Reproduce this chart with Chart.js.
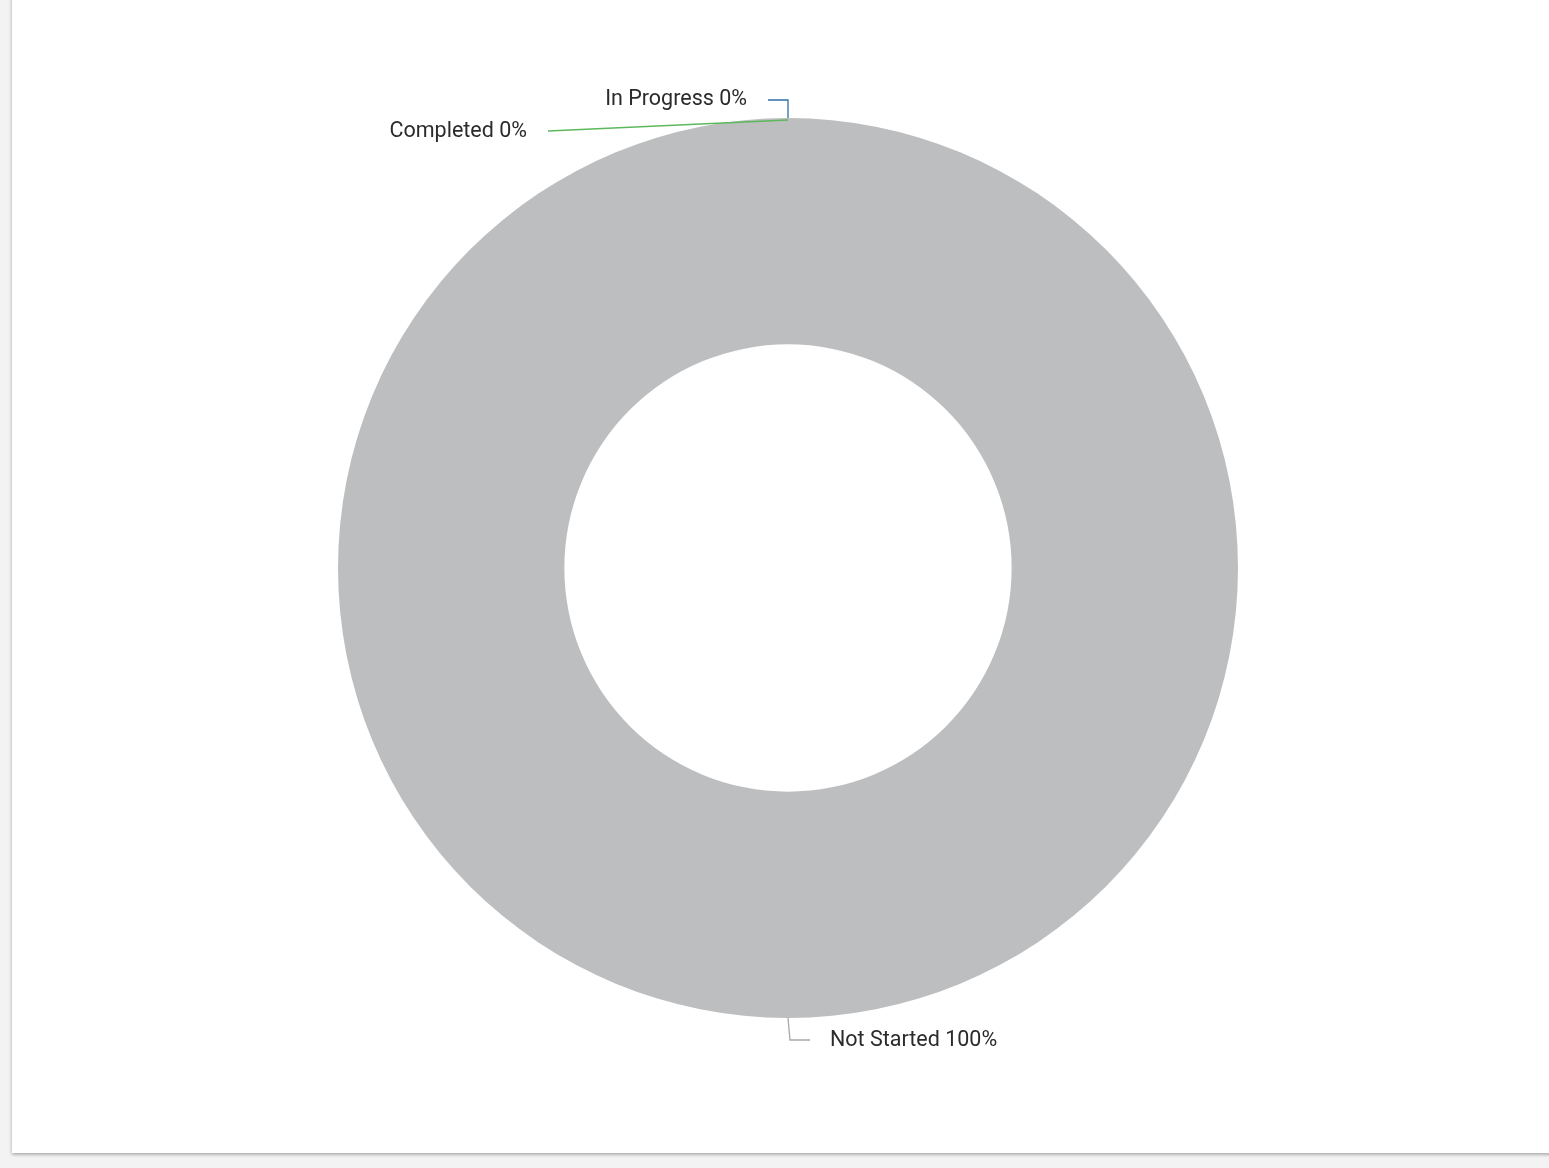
<!DOCTYPE html>
<html>
<head>
<meta charset="utf-8">
<script src="https://cdn.jsdelivr.net/npm/chart.js@4.4.1/dist/chart.umd.min.js"></script>
<style>
  html, body { margin: 0; padding: 0; background: #f3f3f3; width: 1549px; height: 1168px; overflow: hidden; }
  #card { position: absolute; left: 12px; top: -10px; width: 1560px; height: 1163px; background: #ffffff;
          box-shadow: 0 2px 3px rgba(0,0,0,0.25), -1px 0 4px rgba(0,0,0,0.06); }
  #c { position: absolute; left: 0; top: 10px; }
</style>
</head>
<body>
<div id="card"><canvas id="c" width="1537" height="1153"></canvas></div>
<script>
const categories = ["Completed", "In Progress", "Not Started"];
const values = [0, 0, 100];
const percentLabels = ["0%", "0%", "100%"];
const colors = ["#5cb85c", "#2f6fa8", "#bdbec0"];
const lineColors = ["#5cb85c", "#2f6fa8", "#a8a8a8"];

// leader line routes (relative to arc anchor) and label placement, per slice
const leaderRoutes = [
  { pts: [[0, 2], [-240, 13]], text: [-261, 14], align: "right" },
  { pts: [[0, 0], [0, -18], [-20, -18]], text: [-41, -18], align: "right" },
  { pts: [[0, 0], [2, 22], [22, 22]], text: [42, 23], align: "left" }
];

const leaderPlugin = {
  id: "leaders",
  afterDraw(chart) {
    const ctx = chart.ctx;
    const meta = chart.getDatasetMeta(0);
    meta.data.forEach((arc, i) => {
      const p = arc.getProps(["x", "y", "startAngle", "endAngle", "outerRadius"], true);
      const mid = (p.startAngle + p.endAngle) / 2;
      const ax = p.x + Math.cos(mid) * p.outerRadius;
      const ay = p.y + Math.sin(mid) * p.outerRadius;
      const r = leaderRoutes[i];
      ctx.save();
      ctx.strokeStyle = lineColors[i];
      ctx.lineWidth = 1.3;
      ctx.beginPath();
      r.pts.forEach((pt, k) => {
        if (k === 0) ctx.moveTo(ax + pt[0], ay + pt[1]);
        else ctx.lineTo(ax + pt[0], ay + pt[1]);
      });
      ctx.stroke();
      ctx.fillStyle = "#2b2b2b";
      ctx.font = "21.5px Roboto";
      ctx.textAlign = r.align;
      ctx.textBaseline = "middle";
      ctx.fillText(categories[i] + " " + percentLabels[i], ax + r.text[0], ay + r.text[1]);
      ctx.restore();
    });
  }
};

new Chart(document.getElementById("c"), {
  type: "doughnut",
  data: {
    labels: categories,
    datasets: [{
      data: values,
      backgroundColor: colors,
      borderWidth: 0,
      hoverOffset: 0
    }]
  },
  options: {
    responsive: false,
    animation: false,
    cutout: "49.7%",
    layout: { padding: { left: 326, top: 118, right: 311, bottom: 135 } },
    plugins: {
      legend: { display: false },
      tooltip: { enabled: false }
    }
  },
  plugins: [leaderPlugin]
});
</script>
</body>
</html>
